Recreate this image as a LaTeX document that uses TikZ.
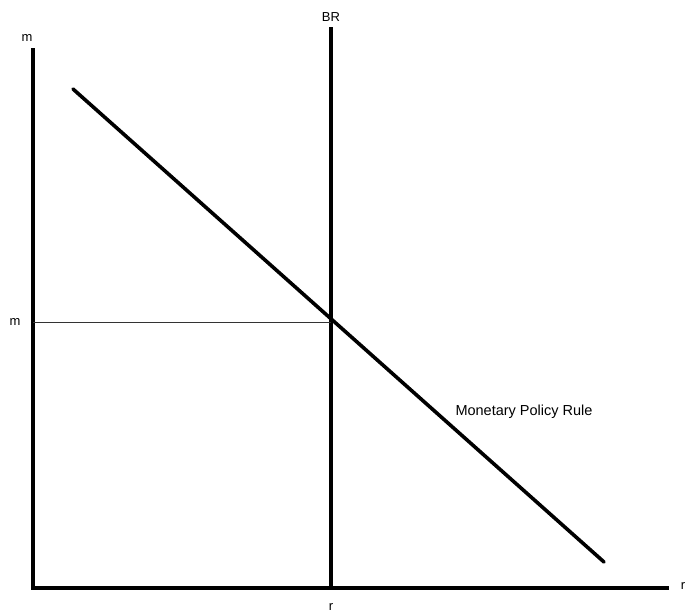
\documentclass[tikz,border=0pt]{standalone}
\usepackage{fontspec}
\setmainfont{Liberation Sans}
\usetikzlibrary{positioning}
\tikzset{
  axisline/.style={line width=3.6pt, line cap=rect},
  curveline/.style={line width=3.6pt, line cap=round},
  guideline/.style={line width=1pt, black!80},
  axislabel/.style={font=\fontsize{13}{15}\selectfont, inner sep=0pt},
  curvelabel/.style={font=\fontsize{14.5}{17}\selectfont, inner sep=0pt}
}

\begin{document}
\begin{tikzpicture}[x=1pt, y=-1pt]
  \useasboundingbox (0,0) rectangle (686,613);
  % axes
  \coordinate (origin) at (33,588);
  \coordinate (ytop) at (33,50);
  \coordinate (xend) at (667,588);
  \draw[axisline] (ytop) -- (origin) -- (xend);
  % vertical BR line
  \coordinate (brtop) at (331,29);
  \coordinate (brbot) at (331,588);
  \draw[axisline] (brtop) -- (brbot);
  % policy rule
  \coordinate (mprstart) at (73,89);
  \coordinate (mprend) at (604,562);
  \draw[curveline] (mprstart) -- (mprend);
  % equilibrium guide
  \coordinate (eq) at (331,322);
  \coordinate (eqaxis) at (33,322);
  \draw[guideline] (eqaxis) -- (eq);
  % labels
  \node[axislabel] (mlab) at (27,38) {m};
  \node[axislabel] (mstar) at (15,322) {m};
  \node[axislabel] (brlab) at (331,17) {BR};
  \node[axislabel] (rstar) at (331,607) {r};
  \node[axislabel] (rlab) at (683,586) {r};
  \node[curvelabel] (mprlab) at (524,412) {Monetary Policy Rule};
\end{tikzpicture}
\end{document}
